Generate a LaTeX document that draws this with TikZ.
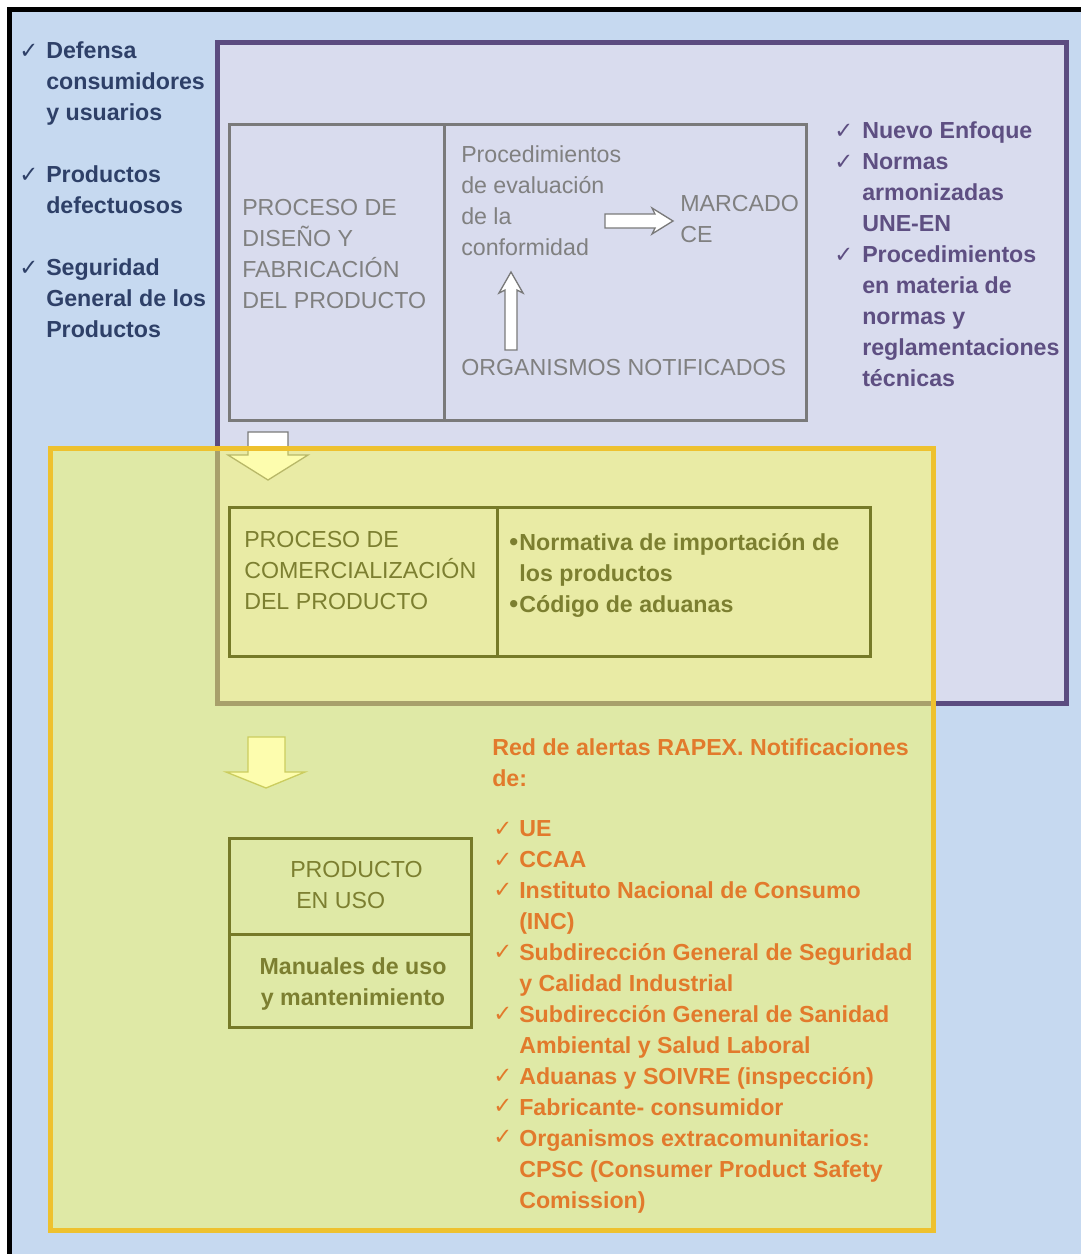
\documentclass[tikz,border=0pt]{standalone}
\usepackage{fontspec}
\setmainfont{Liberation Sans}
\newfontfamily\symfont{DejaVu Sans}
\definecolor{bgblue}{HTML}{C6D9F0}
\definecolor{lavfill}{HTML}{D9DCEE}
\definecolor{purpleln}{HTML}{5B4C80}
\definecolor{purpletx}{HTML}{5E4F82}
\definecolor{greyln}{HTML}{7A7A7A}
\definecolor{greytx}{HTML}{808080}
\definecolor{navytx}{HTML}{2E4068}
\definecolor{yelfill}{HTML}{FCFC56}
\definecolor{yelln}{HTML}{EEC12E}
\definecolor{oliveln}{HTML}{767A28}
\definecolor{olivetx}{HTML}{7C7F30}
\definecolor{orangetx}{HTML}{E27A2C}
\newcommand{\mybul}{{\fontsize{19}{19}\selectfont\raisebox{-0.5pt}{•}}\hspace{1pt}}
\tikzset{
  txt/.style={anchor=north west, inner sep=0pt, align=left, font=\fontsize{17.4}{23.25}\selectfont},
  btxt/.style={txt, font=\fontsize{17.4}{23.25}\selectfont\bfseries},
  chk/.style={anchor=north west, inner sep=0pt, font=\symfont\fontsize{17}{17}\selectfont},
  greybox/.style={draw=greyln, line width=2.25pt},
  olivebox/.style={draw=oliveln, line width=2.25pt},
  blockarrow/.style={fill=white, draw=greyln, line width=1pt, line join=miter}
}
\begin{document}
\begin{tikzpicture}[x=0.75pt,y=-0.75pt]
\useasboundingbox (0,0) rectangle (1081,1254);
\fill[white] (0,0) rectangle (1081,1254);
\fill[bgblue] (9.5,9.5) rectangle (1081,1254);
\draw[black, line width=3.75pt] (9.5,1254) -- (9.5,9.5) -- (1081,9.5);

% purple box
\draw[fill=lavfill, draw=purpleln, line width=3.75pt] (217,42) rectangle (1066,703);

% grey box (design)
\draw[greybox] (229,124) rectangle (806,420);
\draw[greybox] (444,124) -- (444,420);
\node[txt, text=greytx] (diseno) at (242,199) {PROCESO DE\\DISEÑO Y\\FABRICACIÓN\\DEL PRODUCTO};
\node[txt, text=greytx] (proc) at (461,145) {Procedimientos\\de evaluación\\de la\\conformidad};
\node[txt, text=greytx] (marcado) at (680,195) {MARCADO\\CE};
\node[txt, text=greytx] (organ) at (461,359) {ORGANISMOS NOTIFICADOS};
% right block arrow
\draw[blockarrow] (605,214) -- (655,214) -- (652,208) -- (673,221) -- (652,234) -- (655,228) -- (605,228) -- cycle;
% up block arrow
\draw[blockarrow] (505,350) -- (505,290) -- (499,293) -- (511,272) -- (523,293) -- (517,290) -- (517,350) -- cycle;

% purple list
\node[chk, text=purpletx] (c1) at (834,124) {✓};
\node[chk, text=purpletx] (c2) at (834,155) {✓};
\node[chk, text=purpletx] (c3) at (834,248) {✓};
\node[btxt, text=purpletx] (plist) at (862,121) {Nuevo Enfoque\\Normas\\armonizadas\\UNE-EN\\Procedimientos\\en materia de\\normas y\\reglamentaciones\\técnicas};

% left list
\node[chk, text=navytx] (l1) at (19,44) {✓};
\node[chk, text=navytx] (l2) at (19,168) {✓};
\node[chk, text=navytx] (l3) at (19,261) {✓};
\node[btxt, text=navytx] (defensa) at (46,41) {Defensa\\consumidores\\y usuarios};
\node[btxt, text=navytx] (defect) at (46,165) {Productos\\defectuosos};
\node[btxt, text=navytx] (segur) at (46,258) {Seguridad\\General de los\\Productos};

% down arrows (under the yellow overlay)
\draw[blockarrow] (248,432) -- (288,432) -- (288,455) -- (308,455) -- (268,480) -- (228,455) -- (248,455) -- cycle;
\draw[blockarrow, draw=oliveln!70] (248,737) -- (285,737) -- (285,772) -- (305,772) -- (266,788) -- (226,772) -- (248,772) -- cycle;

% yellow translucent box
\fill[yelfill, fill opacity=0.48] (50,448) rectangle (933,1230);
\draw[yelln, line width=3.75pt] (50,448) rectangle (933,1230);

% commercialisation box
\draw[olivebox] (229,507) rectangle (870,656);
\draw[olivebox] (497,507) -- (497,656);
\node[txt, text=olivetx] (comer) at (244,531) {PROCESO DE\\COMERCIALIZACIÓN\\DEL PRODUCTO};
\node[btxt, text=olivetx] (norm) at (509,533) {\mybul Normativa de importación de\\\hphantom{\mybul}los productos\\\mybul Código de aduanas};

% product in use box
\draw[olivebox] (229,838) rectangle (471,1027);
\draw[olivebox] (229,934) -- (471,934);
\node[txt, text=olivetx] (prod) at (290,861) {PRODUCTO\\\hspace{4.5pt}EN USO};
\node[btxt, text=olivetx, align=center, anchor=north] (manual) at (353,957) {Manuales de uso\\y mantenimiento};

% RAPEX list
\node[btxt, text=orangetx] (rapex) at (492,738) {Red de alertas RAPEX. Notificaciones\\de:};
\node[chk, text=orangetx] (o1) at (493,822) {✓};
\node[chk, text=orangetx] (o2) at (493,853) {✓};
\node[chk, text=orangetx] (o3) at (493,883) {✓};
\node[chk, text=orangetx] (o4) at (493,945) {✓};
\node[chk, text=orangetx] (o5) at (493,1007) {✓};
\node[chk, text=orangetx] (o6) at (493,1069) {✓};
\node[chk, text=orangetx] (o7) at (493,1099) {✓};
\node[chk, text=orangetx] (o8) at (493,1130) {✓};
\node[btxt, text=orangetx] (olist) at (519,820) {UE\\CCAA\\Instituto Nacional de Consumo\\(INC)\\Subdirección General de Seguridad\\y Calidad Industrial\\Subdirección General de Sanidad\\Ambiental y Salud Laboral\\Aduanas y SOIVRE (inspección)\\Fabricante- consumidor\\Organismos extracomunitarios:\\CPSC (Consumer Product Safety\\Comission)};
\end{tikzpicture}
\end{document}
